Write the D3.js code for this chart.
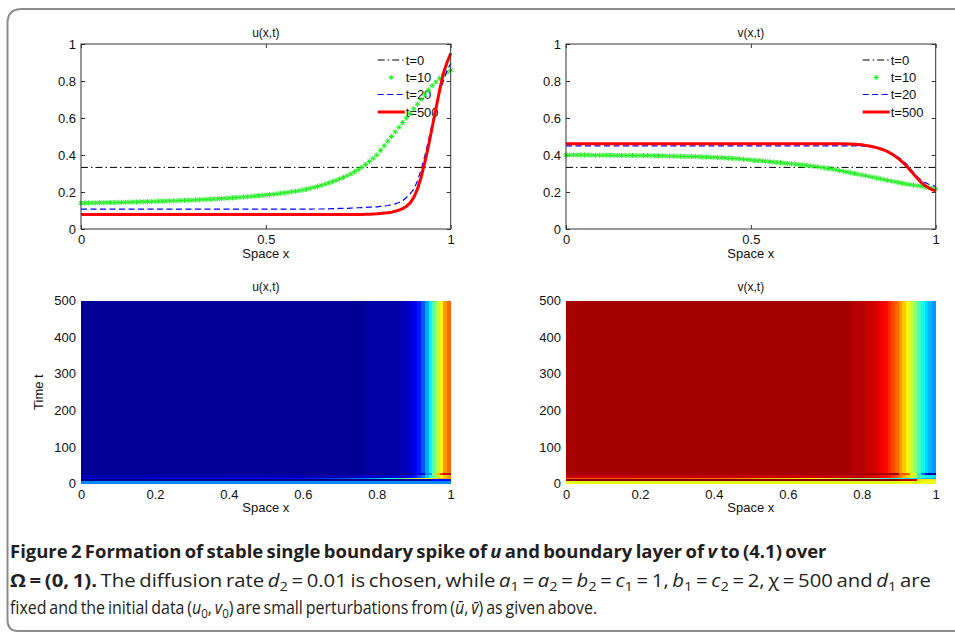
<!DOCTYPE html>
<html>
<head>
<meta charset="utf-8">
<script src="https://cdn.jsdelivr.net/npm/d3@7"></script>
<style>
  html, body { margin: 0; padding: 0; background: #fff; }
  svg { display: block; }
  .ax text { font-family: "Liberation Sans", Arial, sans-serif; fill: #111; }
  .cap text { font-family: "Open Sans", "Noto Sans", sans-serif; fill: #231f20; }
</style>
</head>
<body>
<svg id="fig" width="955" height="632"></svg>
<script>
// ---------- data ----------
// mesh on the unit interval (101 nodes)
const xGrid = d3.range(101).map(i => i / 100);

// initial data (constant level) drawn from x = 0 to x = 1
const xEnds = [0, 1];
const u0 = [0.333, 0.333];
const v0 = [0.333, 0.333];

// u(x,t) profiles
const u10 = [
  0.140,0.140,0.141,0.141,0.141,0.142,0.142,0.142,0.143,0.143,
  0.144,0.144,0.145,0.145,0.146,0.146,0.147,0.147,0.148,0.148,
  0.149,0.150,0.150,0.151,0.152,0.152,0.153,0.154,0.155,0.155,
  0.156,0.157,0.158,0.159,0.160,0.161,0.162,0.163,0.164,0.166,
  0.167,0.168,0.170,0.171,0.173,0.174,0.176,0.178,0.180,0.182,
  0.184,0.186,0.188,0.190,0.193,0.195,0.198,0.201,0.204,0.207,
  0.211,0.215,0.220,0.225,0.230,0.236,0.242,0.249,0.256,0.263,
  0.271,0.279,0.288,0.298,0.309,0.321,0.334,0.349,0.365,0.382,
  0.400,0.425,0.450,0.475,0.500,0.525,0.550,0.575,0.600,0.625,
  0.650,0.675,0.700,0.725,0.750,0.775,0.795,0.815,0.833,0.847,
  0.858];
const u20 = [
  0.107,0.107,0.107,0.107,0.107,0.107,0.107,0.107,0.107,0.107,
  0.107,0.107,0.107,0.107,0.107,0.107,0.107,0.107,0.107,0.107,
  0.107,0.107,0.107,0.107,0.107,0.107,0.107,0.107,0.107,0.107,
  0.107,0.107,0.107,0.107,0.107,0.107,0.107,0.107,0.107,0.107,
  0.107,0.107,0.107,0.107,0.107,0.107,0.107,0.107,0.107,0.107,
  0.107,0.107,0.107,0.107,0.107,0.107,0.107,0.107,0.107,0.107,
  0.107,0.107,0.107,0.108,0.108,0.108,0.109,0.109,0.110,0.110,
  0.111,0.111,0.112,0.113,0.114,0.115,0.116,0.117,0.118,0.119,
  0.120,0.122,0.124,0.127,0.131,0.136,0.143,0.153,0.170,0.190,
  0.215,0.260,0.320,0.395,0.480,0.570,0.655,0.735,0.800,0.855,
  0.895];
const u500 = [
  0.078,0.078,0.078,0.078,0.078,0.078,0.078,0.078,0.078,0.078,
  0.078,0.078,0.078,0.078,0.078,0.078,0.078,0.078,0.078,0.078,
  0.078,0.078,0.078,0.078,0.078,0.078,0.078,0.078,0.078,0.078,
  0.078,0.078,0.078,0.078,0.078,0.078,0.078,0.078,0.078,0.078,
  0.078,0.078,0.078,0.078,0.078,0.078,0.078,0.078,0.078,0.078,
  0.078,0.078,0.078,0.078,0.078,0.078,0.078,0.078,0.078,0.078,
  0.078,0.078,0.078,0.078,0.078,0.078,0.078,0.078,0.078,0.078,
  0.078,0.078,0.078,0.078,0.079,0.079,0.079,0.080,0.080,0.081,
  0.082,0.084,0.086,0.088,0.091,0.096,0.102,0.110,0.122,0.140,
  0.170,0.215,0.280,0.360,0.450,0.550,0.650,0.750,0.840,0.900,
  0.950];

// v(x,t) profiles
const v10 = [
  0.400,0.400,0.400,0.400,0.400,0.400,0.400,0.399,0.399,0.399,
  0.399,0.399,0.399,0.398,0.398,0.398,0.398,0.398,0.397,0.397,
  0.397,0.397,0.397,0.396,0.396,0.396,0.395,0.395,0.394,0.394,
  0.393,0.393,0.392,0.392,0.391,0.391,0.390,0.389,0.389,0.388,
  0.387,0.386,0.385,0.384,0.383,0.382,0.380,0.379,0.377,0.375,
  0.373,0.371,0.369,0.368,0.366,0.364,0.362,0.360,0.358,0.356,
  0.354,0.352,0.350,0.348,0.346,0.344,0.342,0.339,0.336,0.333,
  0.330,0.327,0.324,0.320,0.316,0.312,0.308,0.304,0.300,0.296,
  0.292,0.288,0.284,0.280,0.275,0.271,0.267,0.263,0.259,0.255,
  0.251,0.247,0.243,0.240,0.237,0.234,0.231,0.228,0.224,0.220,
  0.216];
const v20 = [
  0.449,0.449,0.449,0.449,0.449,0.449,0.449,0.449,0.449,0.449,
  0.449,0.449,0.449,0.449,0.449,0.449,0.449,0.449,0.449,0.449,
  0.449,0.449,0.449,0.449,0.449,0.449,0.449,0.449,0.449,0.449,
  0.449,0.449,0.449,0.449,0.449,0.449,0.449,0.449,0.449,0.449,
  0.449,0.449,0.449,0.449,0.449,0.449,0.449,0.449,0.449,0.449,
  0.449,0.449,0.449,0.449,0.449,0.449,0.449,0.449,0.449,0.449,
  0.449,0.449,0.449,0.449,0.449,0.449,0.449,0.449,0.449,0.449,
  0.449,0.449,0.449,0.449,0.449,0.449,0.449,0.449,0.449,0.449,
  0.449,0.447,0.445,0.442,0.438,0.433,0.427,0.420,0.411,0.400,
  0.387,0.372,0.353,0.330,0.305,0.283,0.265,0.252,0.243,0.236,
  0.230];
const v500 = [
  0.461,0.461,0.461,0.461,0.461,0.461,0.461,0.461,0.461,0.461,
  0.461,0.461,0.461,0.461,0.461,0.461,0.461,0.461,0.461,0.461,
  0.461,0.461,0.461,0.461,0.461,0.461,0.461,0.461,0.461,0.461,
  0.461,0.461,0.461,0.461,0.461,0.461,0.461,0.461,0.461,0.461,
  0.461,0.461,0.461,0.461,0.461,0.461,0.461,0.461,0.461,0.461,
  0.461,0.461,0.461,0.461,0.461,0.461,0.461,0.461,0.461,0.461,
  0.461,0.461,0.461,0.461,0.461,0.461,0.461,0.461,0.461,0.461,
  0.461,0.461,0.461,0.461,0.461,0.461,0.460,0.459,0.458,0.457,
  0.455,0.452,0.449,0.445,0.440,0.434,0.427,0.418,0.407,0.394,
  0.379,0.362,0.342,0.320,0.297,0.274,0.253,0.236,0.223,0.213,
  0.206];

// short-time snapshots of the space-time maps (coarse cells, value per cell)
const xEarly = [0, 0.9, 0.95, 1];
const uEarly = [0.050, 0.080, 0.200];
const vEarly = [0.476, 0.450, 0.350];
const xSpike = [0, 0.9, 0.93, 0.95, 0.96, 0.97, 0.98, 0.99, 1];
const uSpike = [0.078, 0.150, 0.350, 0.600, 0.800, 0.950, 1.050, 1.100];
const vSpike = [0.461, 0.400, 0.330, 0.250, 0.200, 0.160, 0.140, 0.125];

// legend entries and ticks
const legendLabels = ["t=0", "t=10", "t=20", "t=500"];
const profileTicksX = [0, 0.5, 1];
const profileTicksY = [0, 0.2, 0.4, 0.6, 0.8, 1];
const heatTicksX = [0, 0.2, 0.4, 0.6, 0.8, 1];
const heatTicksT = [0, 100, 200, 300, 400, 500];

// time bands of the space-time maps
const bandStart = [0, 7, 11, 14, 22, 30];
const bandEnd   = [7, 11, 14, 22, 30, 500];

// colour limits of the two maps
const uLimits = [0.045, 1.15];
const vLimits = [0.116, 0.476];

// ---------- helpers ----------
const svg = d3.select("#fig");
svg.append("rect").attr("width", 955).attr("height", 632).attr("fill", "#fff");

// MATLAB-style jet colormap with 64 levels
function jet(t) {
  t = Math.max(0, Math.min(1, t));
  const k = Math.min(63, Math.floor(t * 64));
  const v = (k + 0.5) / 64;
  const c = a => Math.round(255 * Math.max(0, Math.min(1, a)));
  return `rgb(${c(1.5 - Math.abs(4 * v - 3))},${c(1.5 - Math.abs(4 * v - 2))},${c(1.5 - Math.abs(4 * v - 1))})`;
}

const zip = (xs, ys) => xs.map((x, i) => [x, ys[i]]);

// outer frame of the figure panel
svg.append("path")
  .attr("d", "M 960 9 L 22 9 Q 7.5 9 7.5 23 L 7.5 620 Q 7.5 631 18 631 L 960 631")
  .attr("fill", "none").attr("stroke", "#8c8c8c").attr("stroke-width", 2);

const FONT = 13;

function drawStar(g, cx, cy, color) {
  const r = 2.6, d = 1.9;
  g.append("path")
    .attr("d", `M${cx - r},${cy}H${cx + r}M${cx},${cy - r}V${cy + r}` +
               `M${cx - d},${cy - d}L${cx + d},${cy + d}M${cx - d},${cy + d}L${cx + d},${cy - d}`)
    .attr("stroke", color).attr("stroke-width", 1).attr("fill", "none");
}

function profilePanel(box, title, series) {
  const x = d3.scaleLinear().domain([0, 1]).range([box.x0, box.x1]);
  const y = d3.scaleLinear().domain([0, 1]).range([box.y1, box.y0]);
  const g = svg.append("g").attr("class", "ax");

  // tick labels + inward ticks on all four sides
  const ax = d3.axisBottom(x).tickValues(profileTicksX).tickFormat(d3.format("~g"))
    .tickSize(-4).tickPadding(6);
  const ay = d3.axisLeft(y).tickValues(profileTicksY).tickFormat(d3.format("~g"))
    .tickSize(-4).tickPadding(5);
  const axT = d3.axisTop(x).tickValues(profileTicksX).tickFormat("").tickSize(-4);
  const ayR = d3.axisRight(y).tickValues(profileTicksY).tickFormat("").tickSize(-4);
  [[ax, `translate(0,${box.y1})`], [ay, `translate(${box.x0},0)`],
   [axT, `translate(0,${box.y0})`], [ayR, `translate(${box.x1},0)`]].forEach(([a, tr]) => {
    const s = g.append("g").attr("transform", tr).call(a);
    s.select(".domain").remove();
    s.selectAll("line").attr("stroke", "#333");
    s.selectAll("text").attr("font-size", FONT).attr("fill", "#111");
  });

  g.append("text").attr("x", (box.x0 + box.x1) / 2).attr("y", box.y0 - 7)
    .attr("text-anchor", "middle").attr("font-size", 12).text(title);
  g.append("text").attr("x", (box.x0 + box.x1) / 2).attr("y", box.y1 + 29)
    .attr("text-anchor", "middle").attr("font-size", FONT).text("Space x");

  // legend (no frame)
  const lg = g.append("g");
  const lx0 = box.x1 - 73, lx1 = box.x1 - 46, ltx = box.x1 - 45;
  const ly = [box.y0 + 16, box.y0 + 33.5, box.y0 + 50.5, box.y0 + 68];
  legendLabels.forEach((lab, i) => {
    const s = series[i];
    if (s.marker) {
      drawStar(lg, (lx0 + lx1) / 2, ly[i], s.color);
    } else {
      lg.append("line").attr("x1", lx0).attr("x2", lx1).attr("y1", ly[i]).attr("y2", ly[i])
        .attr("stroke", s.color).attr("stroke-width", s.width)
        .attr("stroke-dasharray", s.dash || null);
    }
    lg.append("text").attr("x", ltx).attr("y", ly[i]).attr("dy", "0.36em")
      .attr("font-size", FONT).text(lab);
  });

  // curves
  series.forEach(s => {
    const pts = zip(s.xs, s.ys);
    if (s.marker) {
      pts.forEach(p => drawStar(g, x(p[0]), y(p[1]), s.color));
    } else {
      g.append("path").datum(pts)
        .attr("d", d3.line().x(d => x(d[0])).y(d => y(d[1])))
        .attr("fill", "none").attr("stroke", s.color).attr("stroke-width", s.width)
        .attr("stroke-dasharray", s.dash || null).attr("stroke-linejoin", "round");
    }
  });

  // axes box
  g.append("rect").attr("x", box.x0).attr("y", box.y0)
    .attr("width", box.x1 - box.x0).attr("height", box.y1 - box.y0)
    .attr("fill", "none").attr("stroke", "#333").attr("stroke-width", 1);
}

function heatPanel(box, title, rows, limits, showYLabel) {
  const x = d3.scaleLinear().domain([0, 1]).range([box.x0, box.x1]);
  const t = d3.scaleLinear().domain([0, 500]).range([box.y1, box.y0]);
  const col = d3.scaleSequential(jet).domain(limits);
  const g = svg.append("g").attr("class", "ax");
  const cells = g.append("g").attr("shape-rendering", "crispEdges");

  rows.forEach(r => {
    const yTop = t(r.t1), yBot = t(r.t0);
    for (let j = 0; j < r.xs.length - 1; j++) {
      const xa = x(r.xs[j]), xb = x(r.xs[j + 1]);
      cells.append("rect")
        .attr("x", xa).attr("y", yTop)
        .attr("width", xb - xa + (j < r.xs.length - 2 ? 1 : 0))
        .attr("height", yBot - yTop)
        .attr("fill", col(r.vals[j]));
    }
  });

  const ax = d3.axisBottom(x).tickValues(heatTicksX).tickFormat(d3.format("~g"))
    .tickSize(0).tickPadding(6);
  const ay = d3.axisLeft(t).tickValues(heatTicksT).tickFormat(d3.format("d"))
    .tickSize(0).tickPadding(5);
  [[ax, `translate(0,${box.y1})`], [ay, `translate(${box.x0},0)`]].forEach(([a, tr]) => {
    const s = g.append("g").attr("transform", tr).call(a);
    s.select(".domain").remove();
    s.selectAll("text").attr("font-size", FONT).attr("fill", "#111");
  });

  g.append("text").attr("x", (box.x0 + box.x1) / 2).attr("y", box.y0 - 10)
    .attr("text-anchor", "middle").attr("font-size", 12).text(title);
  g.append("text").attr("x", (box.x0 + box.x1) / 2).attr("y", box.y1 + 28.5)
    .attr("text-anchor", "middle").attr("font-size", FONT).text("Space x");
  if (showYLabel) {
    g.append("text")
      .attr("transform", `translate(${box.x0 - 38},${(box.y0 + box.y1) / 2}) rotate(-90)`)
      .attr("text-anchor", "middle").attr("font-size", FONT).text("Time t");
  }
}

// ---------- panels ----------
const topL = { x0: 81, x1: 450.7, y0: 44, y1: 229 };
const topR = { x0: 566, x1: 935.7, y0: 44, y1: 229 };
const botL = { x0: 81, x1: 450.7, y0: 300.7, y1: 483.5 };
const botR = { x0: 566, x1: 935.7, y0: 300.7, y1: 483.5 };

const styles = [
  { color: "#000", width: 1, dash: "7,3,1.5,3" },
  { color: "#22ee22", marker: true },
  { color: "#0000ff", width: 1.2, dash: "6,3.5" },
  { color: "#ff0000", width: 3 }
];

profilePanel(topL, "u(x,t)", [
  { ...styles[0], xs: xEnds, ys: u0 },
  { ...styles[1], xs: xGrid, ys: u10 },
  { ...styles[2], xs: xGrid, ys: u20 },
  { ...styles[3], xs: xGrid, ys: u500 }
]);
profilePanel(topR, "v(x,t)", [
  { ...styles[0], xs: xEnds, ys: v0 },
  { ...styles[1], xs: xGrid, ys: v10 },
  { ...styles[2], xs: xGrid, ys: v20 },
  { ...styles[3], xs: xGrid, ys: v500 }
]);

const uBands = [
  { xs: xEnds, vals: u0 }, { xs: xEarly, vals: uEarly }, { xs: xGrid, vals: u10 },
  { xs: xGrid, vals: u20 }, { xs: xSpike, vals: uSpike }, { xs: xGrid, vals: u500 }
].map((r, i) => ({ ...r, t0: bandStart[i], t1: bandEnd[i] }));
const vBands = [
  { xs: xEnds, vals: v0 }, { xs: xEarly, vals: vEarly }, { xs: xGrid, vals: v10 },
  { xs: xGrid, vals: v20 }, { xs: xSpike, vals: vSpike }, { xs: xGrid, vals: v500 }
].map((r, i) => ({ ...r, t0: bandStart[i], t1: bandEnd[i] }));

heatPanel(botL, "u(x,t)", uBands, uLimits, true);
heatPanel(botR, "v(x,t)", vBands, vLimits, false);

// ---------- caption ----------
// each line is set with tight word spacing, then narrowed to its column width
const cap = svg.append("g").attr("class", "cap");
function capLine(y, len, parts, size, bold) {
  const holder = cap.append("g");
  const tx = holder.append("text").attr("x", 0).attr("y", 0).attr("font-size", size)
    .attr("font-weight", bold ? 700 : 400).attr("word-spacing", -1.5);
  parts.forEach(p => {
    if (typeof p === "string") { tx.append("tspan").text(p); return; }
    const s = tx.append("tspan").text(p.t);
    if (p.i) s.attr("font-style", "italic");
    if (p.b) s.attr("font-weight", 700);
    if (p.sub) s.attr("dy", 4).attr("font-size", size * 0.72);
    if (p.up) s.attr("dy", -4);
  });
  const w = tx.node().getComputedTextLength();
  holder.attr("transform", `translate(10,${y}) scale(${len / w},1)`);
}
capLine(558, 817, [
  "Figure 2  Formation of stable single boundary spike of ", { t: "u", i: 1 },
  " and boundary layer of ", { t: "v", i: 1 }, " to (4.1) over"
], 18.5, true);
capLine(587, 922, [
  { t: "Ω = (0, 1).", b: 1 }, " The diffusion rate ", { t: "d", i: 1 }, { t: "2", sub: 1 },
  { t: " = 0.01 is chosen, while ", up: 1 }, { t: "a", i: 1 }, { t: "1", sub: 1 },
  { t: " = ", up: 1 }, { t: "a", i: 1 }, { t: "2", sub: 1 },
  { t: " = ", up: 1 }, { t: "b", i: 1 }, { t: "2", sub: 1 },
  { t: " = ", up: 1 }, { t: "c", i: 1 }, { t: "1", sub: 1 },
  { t: " = 1, ", up: 1 }, { t: "b", i: 1 }, { t: "1", sub: 1 },
  { t: " = ", up: 1 }, { t: "c", i: 1 }, { t: "2", sub: 1 },
  { t: " = 2, χ = 500 and ", up: 1 }, { t: "d", i: 1 }, { t: "1", sub: 1 },
  { t: "  are", up: 1 }
], 18.5, false);
capLine(614, 588, [
  "fixed and the initial data (", { t: "u", i: 1 }, { t: "0", sub: 1 }, { t: ", ", up: 1 },
  { t: "v", i: 1 }, { t: "0", sub: 1 }, { t: ") are small perturbations from (", up: 1 },
  { t: "ū", i: 1 }, ", ", { t: "v̄", i: 1 }, ") as given above."
], 18.5, false);
</script>
</body>
</html>
